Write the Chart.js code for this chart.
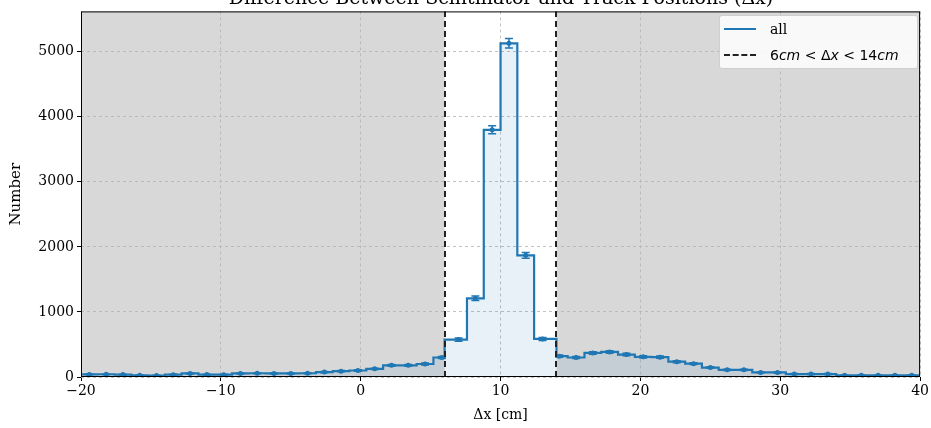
<!DOCTYPE html>
<html>
<head>
<meta charset="utf-8">
<script src="https://cdn.jsdelivr.net/npm/chart.js@4"></script>
<style>
  html, body { margin: 0; padding: 0; background: #fff; overflow: hidden; }
  #wrap { position: relative; width: 931px; height: 428px; }
  #chart { position: absolute; left: 0; top: 0; }
  #title {
    position: absolute; left: 81px; width: 840px; top: -14px; text-align: center;
    font-family: "DejaVu Serif", serif; font-size: 19px; color: #000; white-space: nowrap;
  }
  #legend {
    position: absolute; left: 719px; top: 15px; width: 197px; height: 52px;
    background: rgba(255,255,255,0.85); border: 1px solid #cfcfcf; border-radius: 3px;
  }
  .row { position: absolute; left: 0; height: 20px; display: flex; align-items: center; }
  .swatch { width: 32px; height: 0; margin-left: 4px; margin-right: 14px; }
  .solid { border-top: 2px solid #1f77b4; }
  .dash { border-top: 2px dashed #222; }
  .lab { font-family: "DejaVu Serif", serif; font-size: 14px; color: #000; }
  .math { font-family: "DejaVu Sans", sans-serif; font-size: 14px; color: #000; }
  .math i { font-style: italic; }
</style>
</head>
<body>
<div id="wrap">
  <canvas id="chart" width="931" height="428"></canvas>
  <div id="title">Difference Between Scintillator and Track Positions (Δx)</div>
  <div id="legend">
    <div class="row" style="top:3px"><div class="swatch solid"></div><span class="lab">all</span></div>
    <div class="row" style="top:29px"><div class="swatch dash"></div><span class="math">6<i>cm</i> &lt; Δ<i>x</i> &lt; 14<i>cm</i></span></div>
  </div>
</div>
<script>
// histogram bin edges (cm), 50 bins of 1.2 cm
const binEdges = [-20, -18.8, -17.6, -16.4, -15.2, -14, -12.8, -11.6, -10.4, -9.2, -8, -6.8, -5.6, -4.4, -3.2, -2,
  -0.8, 0.4, 1.6, 2.8, 4, 5.2, 6.4, 7.6, 8.8, 10, 11.2, 12.4, 13.6, 14.8, 16, 17.2, 18.4, 19.6, 20.8, 22,
  23.2, 24.4, 25.6, 26.8, 28, 29.2, 30.4, 31.6, 32.8, 34, 35.2, 36.4, 37.6, 38.8, 40];
// counts per bin
const counts = [40, 42, 38, 25, 22, 35, 55, 38, 35, 55, 58, 55, 55, 58, 75, 90, 100, 125, 180, 180,
  200, 300, 575, 1210, 3800, 5130, 1870, 585, 320, 300, 370, 385, 345, 310, 305, 235, 205, 145, 110, 110,
  70, 70, 45, 45, 45, 25, 25, 25, 25, 25];
// statistical errors per bin
const errors = [6, 6, 6, 5, 5, 6, 7, 6, 6, 7, 8, 7, 7, 8, 9, 9, 10, 11, 13, 13,
  14, 17, 24, 35, 62, 72, 43, 24, 18, 17, 19, 20, 19, 18, 17, 15, 14, 12, 10, 10,
  8, 8, 7, 7, 7, 5, 5, 5, 5, 5];
// selection window
const cuts = [6, 14];
const xTicks = [-20, -10, 0, 10, 20, 30, 40];
const yTicks = [0, 1000, 2000, 3000, 4000, 5000];

const BLUE = '#1f77b4';

// step outline: edges next to the cut lines are drawn at the cut
const stepEdges = binEdges.map(e => {
  const c = cuts.find(v => Math.abs(v - e) < 0.5);
  return c !== undefined ? c : e;
});
const stepPts = counts.map((c, i) => ({ x: stepEdges[i], y: c }));
stepPts.push({ x: binEdges[binEdges.length - 1], y: counts[counts.length - 1] });
const centers = counts.map((c, i) => ({ x: (binEdges[i] + binEdges[i + 1]) / 2, y: c }));

const regionPlugin = {
  id: 'region',
  beforeDraw(chart) {
    const { ctx, chartArea: a, scales: { x } } = chart;
    const x0 = x.getPixelForValue(cuts[0]);
    const x1 = x.getPixelForValue(cuts[1]);
    ctx.save();
    ctx.fillStyle = '#d8d8d8';
    ctx.fillRect(a.left, a.top, x0 - a.left, a.bottom - a.top);
    ctx.fillRect(x1, a.top, a.right - x1, a.bottom - a.top);
    ctx.restore();
  },
  afterDatasetsDraw(chart) {
    const { ctx, chartArea: a, scales: { x, y } } = chart;
    ctx.save();
    // error bars
    ctx.strokeStyle = BLUE;
    ctx.lineWidth = 1.5;
    centers.forEach((p, i) => {
      const px = x.getPixelForValue(p.x);
      const lo = y.getPixelForValue(p.y - errors[i]);
      const hi = y.getPixelForValue(p.y + errors[i]);
      ctx.beginPath();
      ctx.moveTo(px, lo); ctx.lineTo(px, hi);
      ctx.moveTo(px - 4, lo); ctx.lineTo(px + 4, lo);
      ctx.moveTo(px - 4, hi); ctx.lineTo(px + 4, hi);
      ctx.stroke();
    });
    // cut lines
    ctx.strokeStyle = '#222';
    ctx.lineWidth = 2;
    ctx.setLineDash([6, 4]);
    cuts.forEach(c => {
      const px = Math.round(x.getPixelForValue(c));
      ctx.beginPath();
      ctx.moveTo(px, a.bottom); ctx.lineTo(px, a.top);
      ctx.stroke();
    });
    ctx.setLineDash([]);
    // frame
    ctx.strokeStyle = '#000';
    ctx.lineWidth = 1;
    ctx.strokeRect(a.left + 0.5, a.top + 0.5, a.right - a.left - 1, a.bottom - a.top - 1);
    ctx.restore();
  }
};

const serif = { family: "'DejaVu Serif', serif", size: 14 };
const gridOpts = {
  color: '#b3b3b3', lineWidth: 0.8,
  tickColor: '#000', tickBorderDash: [], tickLength: 4, tickWidth: 1
};

new Chart(document.getElementById('chart'), {
  type: 'line',
  data: {
    datasets: [{
      label: 'all',
      data: stepPts,
      stepped: true,
      borderColor: BLUE,
      borderWidth: 2.2,
      backgroundColor: 'rgba(31,119,180,0.1)',
      fill: 'origin',
      pointRadius: 0
    }, {
      label: 'centers',
      data: centers,
      showLine: false,
      pointRadius: 2.5,
      pointBackgroundColor: BLUE,
      pointBorderWidth: 0
    }]
  },
  options: {
    responsive: false,
    animation: false,
    layout: { padding: { top: 7, right: 10, left: 3, bottom: 0 } },
    plugins: { legend: { display: false }, tooltip: { enabled: false } },
    scales: {
      x: {
        type: 'linear',
        min: -20, max: 40,
        afterBuildTicks: s => { s.ticks = xTicks.map(v => ({ value: v })); },
        afterFit: s => { s.height = 51; },
        ticks: {
          font: serif, color: '#000', padding: 2,
          callback: v => String(v).replace('-', '\u2212')
        },
        grid: gridOpts,
        border: { display: false, dash: [3, 3] },
        title: { display: true, text: 'Δx [cm]', font: serif, color: '#000', padding: { top: 4 } }
      },
      y: {
        min: 0, max: 5620,
        afterBuildTicks: s => { s.ticks = yTicks.map(v => ({ value: v })); },
        afterFit: s => { s.width = 78; },
        ticks: { font: serif, color: '#000', padding: 3, callback: v => String(v) },
        grid: gridOpts,
        border: { display: false, dash: [3, 3] },
        title: { display: true, text: 'Number', font: { family: "'DejaVu Serif', serif", size: 15 }, color: '#000' }
      }
    }
  },
  plugins: [regionPlugin]
});
</script>
</body>
</html>
